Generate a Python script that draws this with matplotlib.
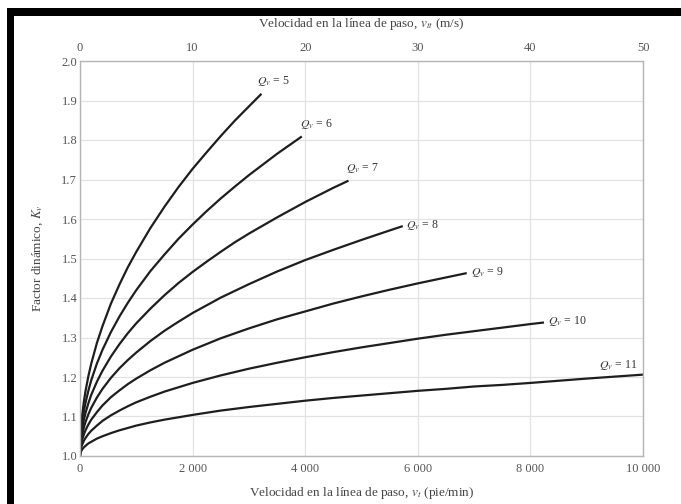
import matplotlib
matplotlib.use("Agg")
import matplotlib.pyplot as plt
from matplotlib.patches import Rectangle

plt.rcParams['font.family'] = ['Liberation Serif', 'DejaVu Serif']
plt.rcParams['mathtext.fontset'] = 'stix'

# Kv curves (v in ft/min)
v_q5 = [0, 3, 10, 20, 40, 70, 100, 150, 200, 300, 400, 550, 700, 850, 1000, 1250, 1500, 1750,
        2000, 2250, 2500, 2750, 3000, 3223]
kv_q5 = [1.0, 1.029, 1.053, 1.074, 1.105, 1.139, 1.166, 1.203, 1.234, 1.286, 1.329, 1.386, 1.434,
         1.478, 1.517, 1.577, 1.631, 1.681, 1.727, 1.769, 1.810, 1.849, 1.885, 1.917]

v_q6 = [0, 3, 10, 20, 40, 70, 100, 150, 200, 300, 400, 550, 700, 850, 1000, 1250, 1500, 1750,
        2000, 2250, 2500, 2750, 3000, 3250, 3500, 3750, 3940]
kv_q6 = [1.0, 1.024, 1.044, 1.061, 1.087, 1.114, 1.136, 1.166, 1.192, 1.234, 1.269, 1.314, 1.353,
         1.388, 1.420, 1.468, 1.510, 1.550, 1.586, 1.620, 1.652, 1.682, 1.711, 1.738, 1.765, 1.790,
         1.809]

v_q7 = [0, 3, 10, 20, 40, 70, 100, 150, 200, 300, 400, 550, 700, 850, 1000, 1250, 1500, 1750,
        2000, 2250, 2500, 2750, 3000, 3500, 4000, 4500, 4769]
kv_q7 = [1.0, 1.019, 1.035, 1.050, 1.070, 1.093, 1.110, 1.134, 1.155, 1.188, 1.216, 1.252, 1.283,
         1.311, 1.336, 1.373, 1.407, 1.438, 1.466, 1.492, 1.517, 1.541, 1.563, 1.604, 1.643, 1.679,
         1.697]

v_q8 = [0, 3, 10, 20, 40, 70, 100, 150, 200, 300, 400, 550, 700, 850, 1000, 1250, 1500, 1750,
        2000, 2500, 3000, 3500, 4000, 4500, 5000, 5500, 5733]
kv_q8 = [1.0, 1.015, 1.028, 1.039, 1.055, 1.073, 1.087, 1.106, 1.122, 1.148, 1.170, 1.198, 1.222,
         1.243, 1.262, 1.291, 1.317, 1.340, 1.362, 1.401, 1.435, 1.467, 1.496, 1.522, 1.547, 1.571,
         1.582]

v_q9 = [0, 3, 10, 20, 40, 70, 100, 150, 200, 300, 400, 550, 700, 850, 1000, 1250, 1500, 2000,
        2500, 3000, 3500, 4000, 4500, 5000, 5500, 6000, 6500, 6869]
kv_q9 = [1.0, 1.012, 1.021, 1.030, 1.042, 1.055, 1.066, 1.080, 1.092, 1.111, 1.128, 1.149, 1.166,
         1.182, 1.196, 1.217, 1.236, 1.269, 1.298, 1.323, 1.346, 1.366, 1.386, 1.404, 1.421, 1.437,
         1.452, 1.463]

v_q10 = [0, 3, 10, 20, 40, 70, 100, 150, 200, 300, 400, 550, 700, 850, 1000, 1250, 1500, 2000,
         2500, 3000, 3500, 4000, 4500, 5000, 5500, 6000, 6500, 7000, 7500, 8000, 8241]
kv_q10 = [1.0, 1.008, 1.015, 1.021, 1.029, 1.039, 1.046, 1.056, 1.064, 1.077, 1.089, 1.103, 1.115,
          1.126, 1.136, 1.150, 1.163, 1.185, 1.204, 1.221, 1.236, 1.250, 1.263, 1.275, 1.286, 1.297,
          1.307, 1.316, 1.325, 1.334, 1.338]

v_q11 = [0, 3, 10, 20, 40, 70, 100, 150, 200, 300, 400, 550, 700, 850, 1000, 1250, 1500, 2000,
         2500, 3000, 3500, 4000, 4500, 5000, 5500, 6000, 6500, 7000, 7500, 8000, 9000, 10000]
kv_q11 = [1.0, 1.005, 1.009, 1.012, 1.017, 1.022, 1.026, 1.032, 1.036, 1.044, 1.050, 1.058, 1.065,
          1.071, 1.077, 1.085, 1.092, 1.104, 1.115, 1.124, 1.132, 1.140, 1.147, 1.153, 1.159, 1.165,
          1.170, 1.176, 1.180, 1.185, 1.196, 1.206]

curves = [(5, v_q5, kv_q5), (6, v_q6, kv_q6), (7, v_q7, kv_q7), (8, v_q8, kv_q8),
          (9, v_q9, kv_q9), (10, v_q10, kv_q10), (11, v_q11, kv_q11)]

x_ticks = [0, 2000, 4000, 6000, 8000, 10000]
x_tick_labels = ['0', '2 000', '4 000', '6 000', '8 000', '10 000']
top_ticks = [0, 10, 20, 30, 40, 50]
y_ticks = [1.0, 1.1, 1.2, 1.3, 1.4, 1.5, 1.6, 1.7, 1.8, 1.9, 2.0]

# label offsets in points: (dx, dy, ha, va)
LABEL_STYLE = {
    5: (-3, 4, 'left', 'bottom'),
    6: (-1, 4, 'left', 'bottom'),
    7: (-2, 4, 'left', 'bottom'),
    8: (2, 1, 'left', 'center'),
    9: (3, 1, 'left', 'center'),
    10: (3, 1, 'left', 'center'),
    11: (-4, 2, 'right', 'bottom'),
}

TICK_COLOR = '#555555'
GRID_COLOR = '#e2e2e2'
SPINE_COLOR = '#b5b5b5'
FS_TICK = 9
FS_LABEL = 9.5

fig = plt.figure(figsize=(6.81, 5.04), dpi=100)
ax = fig.add_axes([80 / 681, 48 / 504, 563 / 681, 395 / 504])

for q, v, kv in curves:
    ax.plot(v, kv, color='#1e1e1e', lw=1.6, solid_joinstyle='round', solid_capstyle='butt')
    dx, dy, ha, va = LABEL_STYLE[q]
    ax.annotate(f'$Q_v$ = {q}', xy=(v[-1], kv[-1]), xytext=(dx, dy),
                textcoords='offset points', ha=ha, va=va, fontsize=8.5, color='#333333')

ax.set_xlim(0, 10000)
ax.set_ylim(1.0, 2.0)
ax.set_xticks(x_ticks)
ax.set_xticklabels(x_tick_labels)
ax.set_yticks(y_ticks)
ax.set_yticklabels([f'{y:.1f}' for y in y_ticks])
ax.tick_params(axis='x', length=0, pad=5, labelsize=FS_TICK, labelcolor=TICK_COLOR)
ax.tick_params(axis='y', length=0, pad=2, labelsize=FS_TICK, labelcolor=TICK_COLOR)
ax.grid(True, color=GRID_COLOR, lw=0.9)
ax.set_axisbelow(True)
for s in ax.spines.values():
    s.set_color(SPINE_COLOR)
    s.set_linewidth(1.0)

ax.set_xlabel('Velocidad en la línea de paso, $v_t$ (pie/min)', fontsize=FS_LABEL,
              color='#444444', labelpad=7)
ax.set_ylabel('Factor dinámico, $K_v$', fontsize=FS_LABEL, color='#444444', labelpad=12)

top = ax.secondary_xaxis('top', functions=(lambda x: x / 200.0, lambda m: m * 200.0))
top.set_xticks(top_ticks)
top.tick_params(length=0, pad=5, labelsize=FS_TICK, labelcolor=TICK_COLOR)
top.spines['top'].set_visible(False)
top.set_xlabel('Velocidad en la línea de paso, $v_{tt}$ (m/s)', fontsize=FS_LABEL,
               color='#444444', labelpad=11)

# black frame on top and left edges
fig.add_artist(Rectangle((7 / 681, 0), 7 / 681, 496 / 504, transform=fig.transFigure,
                         color='black', lw=0))
fig.add_artist(Rectangle((7 / 681, 488 / 504), 674 / 681, 8 / 504, transform=fig.transFigure,
                         color='black', lw=0))

fig.savefig('out.png', dpi=100)
